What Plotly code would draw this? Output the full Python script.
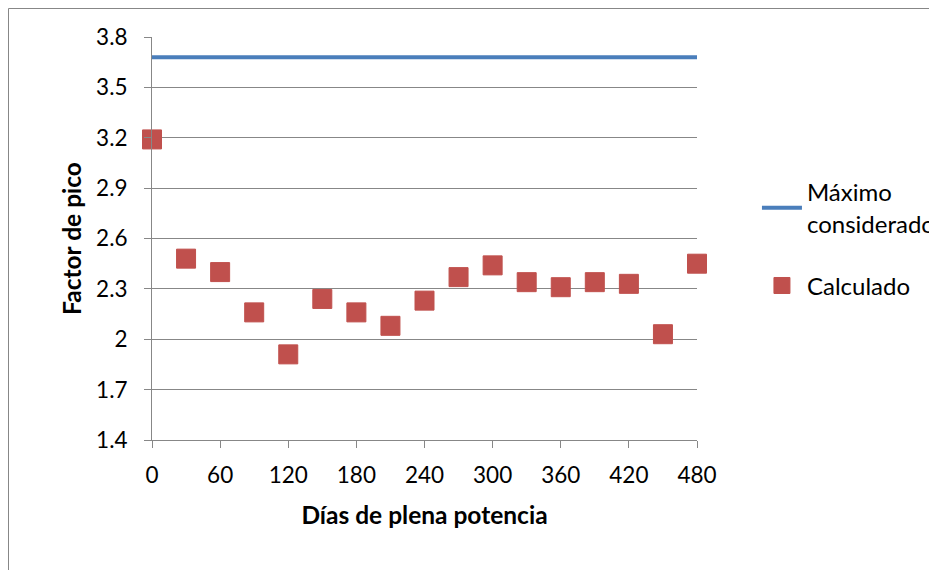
import plotly.graph_objects as go

dias = [0, 30, 60, 90, 120, 150, 180, 210, 240, 270, 300, 330, 360, 390, 420, 450, 480]
calculado = [3.19, 2.48, 2.40, 2.16, 1.91, 2.24, 2.16, 2.08, 2.23, 2.37, 2.44, 2.34, 2.31, 2.34, 2.33, 2.03, 2.45]
maximo_x = [0, 480]
maximo_y = [3.68, 3.68]
x_ticks = [0, 60, 120, 180, 240, 300, 360, 420, 480]
y_ticks = [1.4, 1.7, 2.0, 2.3, 2.6, 2.9, 3.2, 3.5, 3.8]
y_ticklabels = ["1.4", "1.7", "2", "2.3", "2.6", "2.9", "3.2", "3.5", "3.8"]

FONT = "Lato, Open Sans, sans-serif"
GRID = "#878787"

fig = go.Figure()
fig.add_trace(go.Scatter(
    x=maximo_x, y=maximo_y, mode="lines", name="Máximo<br>considerado",
    legendgroup="max",
    line=dict(color="#4A7EBB", width=4), cliponaxis=False,
))
fig.add_trace(go.Scatter(
    x=dias, y=calculado, mode="markers", name="Calculado",
    legendgroup="calc",
    marker=dict(symbol="square", size=19, color="#C0504D",
                line=dict(color="#C0504D", width=1)),
    cliponaxis=False,
))

fig.update_layout(
    width=929, height=562,
    margin=dict(l=144, r=240, t=29, b=130, autoexpand=False),
    paper_bgcolor="white", plot_bgcolor="white",
    font=dict(family=FONT, size=22.5, color="black"),
    showlegend=True,
    legend=dict(x=1.11, y=0.67, xanchor="left", yanchor="top",
                font=dict(family=FONT, size=24), tracegroupgap=28,
                bgcolor="rgba(0,0,0,0)", itemwidth=40),
    xaxis=dict(
        range=[0, 480], tickmode="array", tickvals=x_ticks,
        showgrid=False, zeroline=False, showline=True, linecolor=GRID, linewidth=1,
        ticks="outside", ticklen=7, tickcolor=GRID,
        title=dict(text="<b>Días de plena potencia</b>", font=dict(size=24.5), standoff=19),
        ticklabelstandoff=8,
    ),
    yaxis=dict(
        range=[1.4, 3.8], tickmode="array", tickvals=y_ticks, ticktext=y_ticklabels,
        showgrid=True, gridcolor=GRID, gridwidth=1,
        zeroline=False, showline=True, linecolor=GRID, linewidth=1,
        ticks="outside", ticklen=7, tickcolor=GRID,
        ticklabelstandoff=12,
        title=dict(text="<b>Factor de pico</b>", font=dict(size=24.5), standoff=7),
    ),
    shapes=[dict(type="rect", xref="paper", yref="paper",
                 x0=-0.2633, x1=1.6, y0=-0.5, y1=1.0707,
                 line=dict(color="#878787", width=1), layer="below")],
)

fig.write_html("out.html")
